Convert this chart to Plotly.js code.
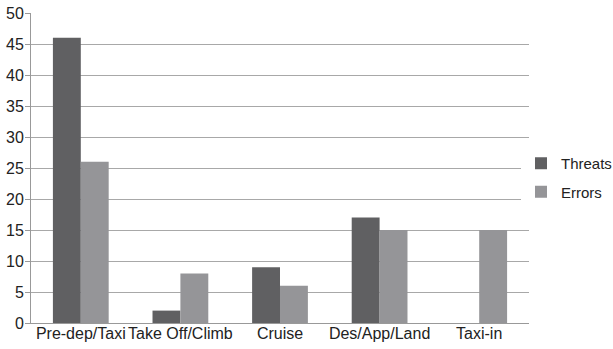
<!DOCTYPE html>
<html><head><meta charset="utf-8">
<script src="https://cdn.plot.ly/plotly-3.0.1.min.js"></script>
<style>html,body{margin:0;padding:0;background:#fff}#chart{width:613px;height:349px}</style>
</head><body><div id="chart"></div>
<script>
const categories = ["Pre-dep/Taxi", "Take Off/Climb", "Cruise", "Des/App/Land", "Taxi-in"];
const threats = [46, 2, 9, 17, 0];
const errors = [26, 8, 6, 15, 15];
const yTicks = [0, 5, 10, 15, 20, 25, 30, 35, 40, 45, 50];

const font = {family: "Liberation Sans, Arial, sans-serif", size: 16, color: "#222"};
const data = [
  {type: "bar", name: "Threats", x: categories, y: threats, marker: {color: "#606062"}, legendgroup: "a"},
  {type: "bar", name: "Errors", x: categories, y: errors, marker: {color: "#959598"}, legendgroup: "b"}
];
const layout = {
  width: 613, height: 349,
  margin: {l: 31, r: 84, t: 13, b: 26, autoexpand: false},
  paper_bgcolor: "#fff", plot_bgcolor: "#fff",
  font: font,
  barmode: "group", bargap: 0.44, bargroupgap: 0,
  showlegend: true,
  legend: {xref: "container", yref: "container", x: 521/613, y: 1 - 147/349, xanchor: "left", yanchor: "top",
    font: {family: font.family, size: 15, color: "#222"}, tracegroupgap: 6, traceorder: "grouped", itemwidth: 30},
  xaxis: {showgrid: false, showline: true, linecolor: "#999", linewidth: 1, ticks: "", tickfont: font,
    tickangle: 0, ticklabelstandoff: -4, fixedrange: true},
  yaxis: {range: [0, 50], tickvals: yTicks, showgrid: true, gridcolor: "#a8a8a8", gridwidth: 1,
    showline: true, linecolor: "#999", linewidth: 1, ticks: "outside", ticklen: 5, tickcolor: "#999",
    zeroline: false, tickfont: font, ticklabelstandoff: -2, fixedrange: true}
};
Plotly.newPlot("chart", data, layout, {displayModeBar: false, staticPlot: true});
</script></body></html>
